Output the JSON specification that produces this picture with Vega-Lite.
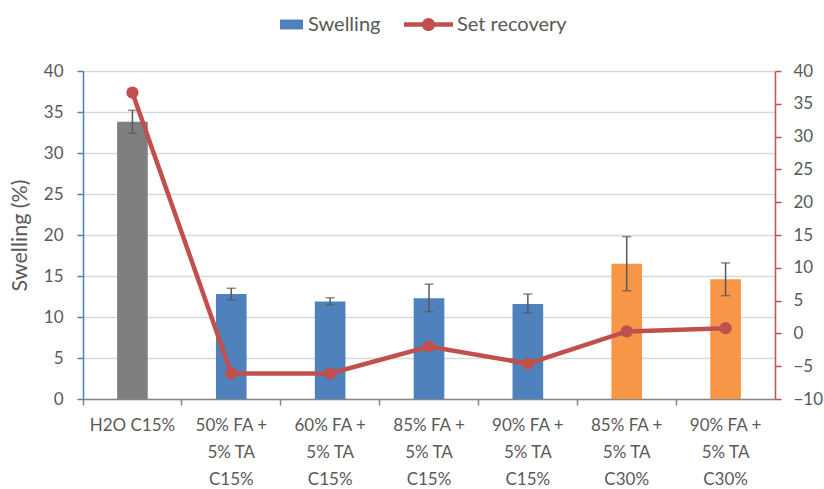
{
  "$schema": "https://vega.github.io/schema/vega-lite/v6.json",
  "width": 692,
  "height": 328,
  "autosize": {"type": "none"},
  "padding": {"left": 83, "top": 71, "right": 49, "bottom": 90},
  "background": "white",
  "config": {
    "font": "Lato",
    "view": {"stroke": null},
    "axis": {"labelColor": "#595959", "titleColor": "#595959", "labelFontSize": 17, "titleFontSize": 21.5, "titleFontWeight": "normal"},
    "legend": {"labelColor": "#595959", "labelFontSize": 20}
  },
  "data": {
    "values": [
      {"cat": "H2O C15%", "swelling": 33.8, "lo": 32.4, "hi": 35.2, "recovery": 36.7, "grp": "Control", "series": "Set recovery"},
      {"cat": "50% FA +\n5% TA\nC15%", "swelling": 12.8, "lo": 12.1, "hi": 13.5, "recovery": -6.1, "grp": "Swelling", "series": "Set recovery"},
      {"cat": "60% FA +\n5% TA\nC15%", "swelling": 11.9, "lo": 11.5, "hi": 12.35, "recovery": -6.1, "grp": "Swelling", "series": "Set recovery"},
      {"cat": "85% FA +\n5% TA\nC15%", "swelling": 12.3, "lo": 10.65, "hi": 14.0, "recovery": -2.0, "grp": "Swelling", "series": "Set recovery"},
      {"cat": "90% FA +\n5% TA\nC15%", "swelling": 11.6, "lo": 10.5, "hi": 12.8, "recovery": -4.6, "grp": "Swelling", "series": "Set recovery"},
      {"cat": "85% FA +\n5% TA\nC30%", "swelling": 16.5, "lo": 13.2, "hi": 19.8, "recovery": 0.3, "grp": "C30", "series": "Set recovery"},
      {"cat": "90% FA +\n5% TA\nC30%", "swelling": 14.6, "lo": 12.6, "hi": 16.6, "recovery": 0.8, "grp": "C30", "series": "Set recovery"}
    ]
  },
  "encoding": {
    "x": {
      "field": "cat", "type": "nominal", "sort": null,
      "scale": {"paddingInner": 0, "paddingOuter": 0},
      "axis": {
        "title": null, "labelAngle": 0, "bandPosition": 0,
        "labelExpr": "split(datum.label, '\\n')",
        "labelLineHeight": 27, "labelPadding": 12, "tickSize": 6,
        "domainColor": "#868686", "domainWidth": 1.5, "tickColor": "#868686", "tickWidth": 1.5,
        "labelBaseline": "top"
      }
    }
  },
  "layer": [
    {
      "layer": [
        {
          "mark": {"type": "bar", "width": {"band": 0.31}},
          "encoding": {
            "y": {
              "field": "swelling", "type": "quantitative",
              "scale": {"domain": [0, 40], "nice": false},
              "axis": {
                "title": "Swelling (%)", "values": [0, 5, 10, 15, 20, 25, 30, 35, 40],
                "domainColor": "#4f81bd", "domainWidth": 1.5, "tickColor": "#4f81bd", "tickWidth": 1.5, "tickSize": 6,
                "labelPadding": 14, "titlePadding": 12,
                "gridColor": "#d9d9d9", "gridWidth": 1.5
              }
            },
            "color": {
              "field": "grp", "type": "nominal",
              "scale": {"domain": ["Control", "Swelling", "C30"], "range": ["#7f7f7f", "#4f81bd", "#f79646"]},
              "legend": {
                "title": null, "orient": "none", "legendX": 197, "legendY": -58, "direction": "horizontal", "values": ["Swelling"],
                "labelOffset": 5,
                "encode": {"symbols": {"update": {"shape": {"value": "M-1,-0.43H1V0.43H-1Z"}, "size": {"value": 529}, "fill": {"value": "#4f81bd"}, "strokeWidth": {"value": 0}}}}
              }
            }
          }
        },
        {
          "mark": {"type": "rule", "color": "#595959", "strokeWidth": 1.5},
          "encoding": {"y": {"field": "lo", "type": "quantitative"}, "y2": {"field": "hi"}}
        },
        {
          "mark": {"type": "tick", "color": "#595959", "thickness": 1.5, "size": 9, "orient": "horizontal"},
          "encoding": {"y": {"field": "lo", "type": "quantitative"}}
        },
        {
          "mark": {"type": "tick", "color": "#595959", "thickness": 1.5, "size": 9, "orient": "horizontal"},
          "encoding": {"y": {"field": "hi", "type": "quantitative"}}
        }
      ]
    },
    {
      "mark": {"type": "line", "strokeWidth": 4.5, "point": {"filled": true, "size": 150}},
      "encoding": {
        "y": {
          "field": "recovery", "type": "quantitative",
          "scale": {"domain": [-10, 40], "nice": false},
          "axis": {
            "title": null, "orient": "right", "values": [-10, -5, 0, 5, 10, 15, 20, 25, 30, 35, 40],
            "grid": false, "domainColor": "#c0504d", "domainWidth": 1.5, "tickColor": "#c0504d", "tickWidth": 1.5, "tickSize": 6,
            "labelPadding": 12
          }
        },
        "color": {
          "field": "series", "type": "nominal",
          "scale": {"domain": ["Set recovery"], "range": ["#c0504d"]},
          "legend": {
            "title": null, "orient": "none", "legendX": 321, "legendY": -71, "direction": "horizontal", "labelOffset": 4,
            "encode": {"symbols": {"update": {"shape": {"value": "M-1,-0.09H1V0.09H-1Z M0.27,0A0.27,0.27 0 1,1 -0.27,0A0.27,0.27 0 1,1 0.27,0Z"}, "size": {"value": 2401}, "fill": {"value": "#c0504d"}, "stroke": {"value": "#c0504d"}, "strokeWidth": {"value": 0}, "opacity": {"value": 1}}}}
          }
        }
      }
    }
  ],
  "resolve": {"scale": {"y": "independent", "color": "independent"}}
}
